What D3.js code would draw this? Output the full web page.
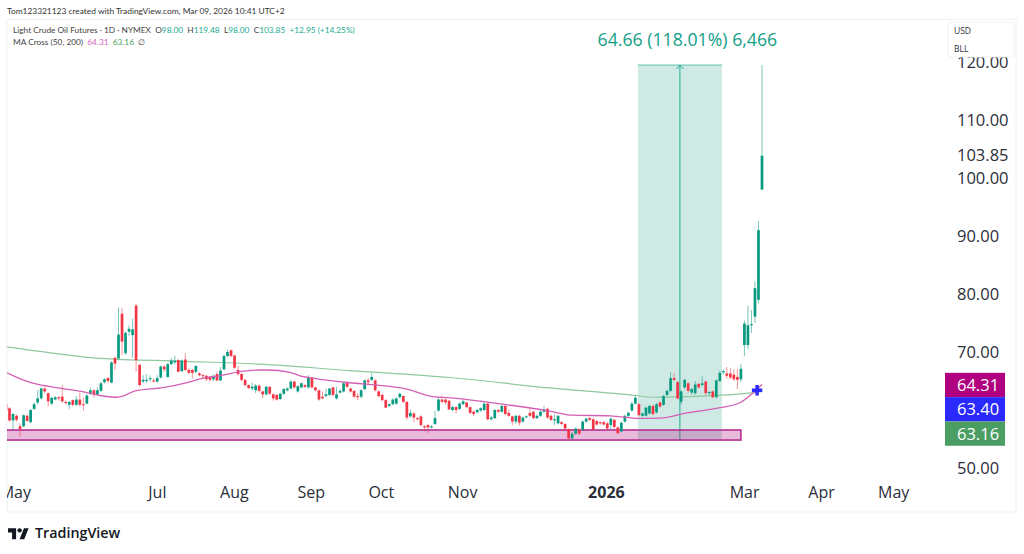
<!DOCTYPE html>
<html><head><meta charset="utf-8">
<script src="https://cdn.jsdelivr.net/npm/d3@7"></script>
<style>html,body{margin:0;padding:0;background:#fff}svg{display:block}text{font-family:"Open Sans",sans-serif}</style>
</head><body><svg id="c" width="1024" height="554"></svg>
<script>
const opens=[61,60.3,58.2,59,57.2,57.2,59,57.9,60.2,61.3,62,63.7,62.9,61.1,61.8,62.2,62.3,61.4,60.9,61.7,60.9,61.8,61,61.1,62.9,63.4,62.7,63.3,64.8,65.5,64.7,69,68.9,76.6,69.8,73.5,72.9,78,67.8,64.9,65,65.3,65.1,64.9,65.6,67.5,65.7,67.9,68.2,68.6,66.7,68.7,66.9,66.9,66.6,66.3,66,65.9,65.7,65.3,66.2,65.1,67,69.3,70.3,69.4,66.9,66.2,65.2,64.3,63.7,63.4,64.2,
63.2,62.7,64,62.7,62.6,61.9,62.8,63.4,63.7,64.9,63.2,63.9,64.3,63.9,65.6,63.9,63.4,62.3,62.4,62.6,63.9,62,63,63.2,64.7,63.7,63.3,62.4,62.3,63.6,65.1,65.2,65.1,63.2,62.6,61.7,60.7,61,61.1,62.2,62.4,61.4,58.9,59.4,58.6,58.9,57.2,57.4,57,57.6,59.9,61.8,61.8,61.6,
60,60.5,60.2,61,61.3,60.5,59.7,59.6,59.9,60,61.1,58.4,58.6,60,59.7,60.7,59.5,58.9,58,59,58,58.8,59.5,59.7,58.6,59,59.7,60.2,59,58.2,57.7,57.9,57.6,56.7,55.1,55.9,56.6,56.6,58,58.6,58.4,58.1,57.9,57.9,57.7,57.4,58.3,57,56.3,58,59,59.9,61.1,61,
59,59,59.4,60.7,59.6,61.3,60.9,62.6,63.3,65.5,64.8,61.4,63.9,64.6,63,62.9,64.5,64.3,64.9,62.9,63.2,62.2,65,66.5,66.3,66.3,66.1,65.7,65.3,71.2,71.2,74.6,76.1,79,98];
const closes=[60,58.2,59.3,58.3,56.7,59.1,58.1,60,61,62,63.7,63.2,61.5,62.1,62.2,62,61.5,61.2,61.4,60.9,61.8,60.9,60.9,62.5,63.4,62.7,63.4,64.6,65.3,65,68.2,68,73,71.8,73.3,74,73.9,68.6,64.3,65.2,65.2,65.5,65,65.5,67.5,67,67.9,68.5,68.5,66.6,68.5,66.9,66.4,66.4,67.6,66,65.9,65.3,65.2,65.9,65.1,66.8,69.3,70,69.3,67.3,66.2,65.2,64.3,63.8,64,64.2,63.3,
62.7,64,62.8,62,61.8,62.8,63.6,63.7,64.9,63.9,64.1,64.6,64,65.7,63.9,63.4,61.8,62,62.7,63.7,62.6,62.7,63.3,64.6,64,63.2,62.3,62.2,63.4,65.1,64.8,65.7,63.4,62.4,61.7,60.4,61,61.8,62,62.8,61.4,58.7,59.5,58.7,58.4,57.4,57,57,57.2,58.6,61.8,61.4,61.3,60.1,
60.5,60,61.1,61.5,60.5,59.5,59.3,60,60.3,61.1,58.4,58.7,60,59.7,60.7,59.3,59,58,59,57.8,58.7,58.9,59,58.6,59,59.7,60.1,58.7,58.3,58.4,59,57.6,56.8,55.1,55.9,56.8,55.9,58,58.5,58.3,56.6,57.5,57.7,57.5,56.8,58.5,57.1,56,57.8,59,59.5,61.1,62.1,59.1,
59.4,60.4,60.7,59.3,61,60.6,62.4,63.3,65.5,65.2,62,63.2,65.2,63.3,63.6,64.4,63.9,64.6,62.9,63.1,62.2,65.1,66.4,66.7,65.9,65.6,65.3,65.2,67.1,74.9,74.6,74.8,81,91,103.85];
const highs=[62,60.5,59.5,59.2,57.7,59.2,59.2,60.2,61.3,63.4,63.9,63.9,63,62.3,62.4,62.4,64.3,61.6,61.5,61.8,62.4,63,62.2,62.7,63.9,63.6,63.9,64.8,65.5,65.7,68.4,69.2,77.7,77.6,73.5,74.6,75.8,78.3,67.9,66,66.2,66,65.5,66,67.7,67.7,68.1,69,69.4,68.8,68.7,69.8,67.2,67.1,67.7,66.5,66.3,66,65.9,66.1,66.6,67.4,69.6,70.4,70.4,69.5,67.6,66.4,65.3,64.4,64.7,64.5,64.4,
63.3,64.2,64.1,62.9,62.7,63,63.8,63.9,65.1,65,64.3,64.8,64.4,66,65.7,64,63.5,63.2,63.7,63.8,64,64,63.6,64.8,64.9,63.9,63.4,62.9,63.6,65.3,65.5,66.4,65.3,63.4,62.8,61.9,61.1,62,62.2,63,62.5,61.5,60.1,59.6,58.8,59.1,57.4,57.6,57.4,59.9,62.3,62.5,62,61.7,
60.7,60.7,61.3,61.7,61.4,60.6,59.9,60.2,60.5,61.3,61.2,59,60.2,60.2,60.9,60.8,60.1,59,59.2,59.2,58.9,59.1,60.2,59.9,59.2,60,60.7,60.4,59.2,59.3,59.2,58.1,57.7,56.8,56.2,57,56.8,58.2,58.7,58.8,58.6,58.3,58,58.1,57.9,58.7,58.5,57.2,58,59.2,59.7,61.4,62.5,61.2,
59.6,60.6,60.9,60.9,61.2,61.5,62.6,63.5,66.5,66.3,65,63.4,65.4,64.8,63.8,65,64.7,65.8,65.1,63.3,63.4,65.3,66.8,67,67.4,67.3,67,67,67.9,75.4,78,77.2,82.2,92.6,119.48];
const lows=[59.5,58,56.6,58,55.4,57,58,57.7,60,61,61.8,62.9,60.6,60.8,61.7,61.6,61.2,61,60.2,60.6,60.7,60.6,59.9,61,62.6,62.2,62.5,63.1,64.6,64.6,64.6,66.9,68.7,69.5,69.5,72.8,69,66.6,64,64.6,64.7,64.9,64.7,64.7,65.4,66.6,65.5,67.7,67.9,66.5,66.6,66.7,66.2,65.4,66.3,65.8,65.3,65,64.9,65,65,65,66.8,69.1,69.1,67.1,65.9,64.9,64,63.6,63.4,62.9,63,
62,62.5,62.6,61.6,61.6,61.7,62.6,63.2,63.6,63.7,63,63.7,63.8,63.7,63.7,63.2,61.6,61.9,62.2,62.4,62.4,61.8,62.8,63,63.8,63,62.1,61.7,62,63.4,64.2,65,63.2,62.2,61.5,60.3,60.5,60.8,60.9,62,61.2,58.3,58.7,57.9,58.2,57.2,56.3,56,56.8,57.4,59.7,61.2,61,60,
59.8,59.4,60,60.8,60.3,59.3,58.9,59.4,59.7,59.8,58.2,58.2,58.4,59.5,59.5,59.1,58.8,57.4,57.6,57.3,57.8,58.6,58.8,58.4,58.4,58.8,59.5,58.5,58.1,57.4,57.5,57.4,56.6,54.9,54.8,55.7,55.7,56.4,57.8,58.1,56.5,57.3,57.5,57.3,56.6,56.6,56.7,55.8,56.1,57.8,58.8,59.7,60.9,59,
58.8,58.9,59.2,59.1,59.4,60.4,60.7,62.4,63.1,65,61.8,60.9,63.6,63,62.7,62.6,63.7,64.1,62.6,62.6,62,62,64.8,66.1,65.4,65.3,65,63.6,64.8,69.3,70.5,73.3,75,78.4,98];
const priceTicks=[50,60,70,80,90,100,103.85,110,120];
const monthLabels=["May","Jul","Aug","Sep","Oct","Nov","2026","Mar","Apr","May"];
const monthBars=[2.5,42.9,64.8,86.7,106.6,129.7,170.6,209.9,231.8,252.3];
const ma200Bars=[0.3,10.2,26.7,50.9,72.2,97.8,126.3,154.7,179.2,184,198.2,207.3,215];
const ma200=[70.9,70.05,68.9,68.4,67.9,66.8,65.6,63.8,62.5,62.2,62.4,62.7,63.16];
const ma50Bars=[0.3,5.4,9.1,16.2,23,26.7,31.6,33.3,36.7,44.6,51.5,56,60.8,67.4,72.2,74.2,80.8,83.6,87.3,97.8,105.5,114,121.4,126.3,142.5,153.9,161.2,171.8,180.3,186,193.7,201.1,208.7,212.4,215];
const ma50=[66.4,65.05,64.4,63.7,63,62.5,62.2,62.4,63.3,63.85,64.7,65.5,65.9,66.7,66.9,66.9,66.5,65.9,65.5,64.7,64.3,63.6,62.3,62.1,60.9,59.9,59.1,59,58.55,58.6,59.5,60.2,61.25,62.9,64.4];
const lastLabels=["64.31","63.40","63.16"];
const legendUnits=["USD","BLL"];

const GREEN="#089981",RED="#f23645",TEAL="#22ab94",MAG="#b0007f",BLUE="#2a2aff",MAG2="#d45fb4",GRN2="#8fc9a0";
const N=opens.length, right=762;
const x=d3.scaleLinear().domain([0,N-1]).range([6,right]);
const y=d3.scaleLinear().domain([50,120]).range([468,62]);
const svg=d3.select("#c");
svg.append("defs").append("clipPath").attr("id","pane").append("rect").attr("x",7).attr("y",20).attr("width",1009).attr("height",492);
svg.append("rect").attr("x",7).attr("y",19.5).attr("width",1009).attr("height",492.5).attr("fill","none").attr("stroke","#eef0f3");
const pane=svg.append("g").attr("clip-path","url(#pane)");

// position tool
const toolBars=[179.7,203.6], entry=54.82, target=119.48;
pane.append("rect").attr("x",x(toolBars[0])).attr("width",x(toolBars[1])-x(toolBars[0]))
 .attr("y",y(target)).attr("height",y(entry)-y(target)).attr("fill","#cfeae4");
pane.append("line").attr("x1",x(toolBars[0])).attr("x2",x(toolBars[1])).attr("y1",y(target)).attr("y2",y(target)).attr("stroke",TEAL).attr("stroke-opacity",.7);
const mid=(x(toolBars[0])+x(toolBars[1]))/2;
pane.append("line").attr("x1",mid).attr("x2",mid).attr("y1",y(target)).attr("y2",y(entry)).attr("stroke",TEAL);
pane.append("path").attr("d",`M${mid-3.5},${y(target)+4}L${mid},${y(target)}L${mid+3.5},${y(target)+4}`).attr("fill","none").attr("stroke",TEAL);

// support zone
const zone=[56.55,54.82], zoneEnd=209;
pane.append("rect").attr("x",x(0)-5).attr("width",x(zoneEnd)-x(0)+5).attr("y",y(zone[0])).attr("height",y(zone[1])-y(zone[0]))
 .attr("fill","rgba(176,0,127,.27)").attr("stroke","#b62f92").attr("stroke-width",1.6);

// MAs
const ln=d3.line().curve(d3.curveMonotoneX);
pane.append("path").attr("d",ln(ma200.map((v,i)=>[x(ma200Bars[i]),y(v)]))).attr("fill","none").attr("stroke",GRN2).attr("stroke-width",1.2);

// candles
const g=pane.append("g");
d3.range(N).forEach(i=>{
 const up=closes[i]>=opens[i], col=up?GREEN:RED, cx=x(i);
 g.append("line").attr("x1",cx).attr("x2",cx).attr("y1",y(highs[i])).attr("y2",y(lows[i])).attr("stroke",col).attr("stroke-opacity",.55).attr("stroke-width",1);
 const t=y(Math.max(opens[i],closes[i])), b=y(Math.min(opens[i],closes[i]));
 g.append("rect").attr("x",cx-1.35).attr("width",2.7).attr("y",t).attr("height",Math.max(b-t,1)).attr("fill",col);
});
pane.append("path").attr("d",ln(ma50Bars.map((v,i)=>[x(v),y(ma50[i])]))).attr("fill","none").attr("stroke",MAG2).attr("stroke-width",1.3);
pane.append("path").attr("d",d3.symbol(d3.symbolCross,60)()).attr("transform",`translate(${x(213.6)},${y(63.4)})`).attr("fill",BLUE);

// tool label
svg.append("text").attr("x",mid+7.5).attr("y",46).attr("text-anchor","middle").attr("fill","#12a088").attr("font-size",17.7).text("64.66 (118.01%) 6,466");

// axes
const yAxis=d3.axisRight(y).tickValues(priceTicks).tickSize(0).tickPadding(0).tickFormat(d3.format(".2f"));
const ya=svg.append("g").attr("transform","translate(957,0)").call(yAxis);
ya.select(".domain").remove();
ya.selectAll("text").attr("font-size",16.5).attr("fill","#2a2e39").style("font-family",'"Open Sans",sans-serif');
const xAxis=d3.axisBottom(x).tickValues(monthBars).tickSize(0).tickPadding(0).tickFormat((d,i)=>monthLabels[i]);
const xa=svg.append("g").attr("transform","translate(0,487)").attr("clip-path","url(#pane2)").call(xAxis);
svg.select("defs").append("clipPath").attr("id","pane2").append("rect").attr("x",7).attr("y",-10).attr("width",1009).attr("height",40);
xa.select(".domain").remove();
xa.selectAll("text").attr("font-size",16).attr("fill","#2a2e39").style("font-family",'"Open Sans",sans-serif').attr("font-weight",(d,i)=>monthLabels[i]==="2026"?700:400);

// last value labels
const labelColors=[MAG,BLUE,"#4b9e63"];
lastLabels.forEach((t,i)=>{
 const cy=y(+lastLabels[0])+i*24.3;
 svg.append("rect").attr("x",945).attr("width",60).attr("y",cy-12.15).attr("height",24.3).attr("fill",labelColors[i]);
 svg.append("text").attr("x",957).attr("y",cy).attr("dy",".36em").attr("fill","#fff").attr("font-size",16.5).text(t);
});

// unit box
svg.append("rect").attr("x",948).attr("y",22).attr("width",66).attr("height",35).attr("rx",3).attr("fill","#fff").attr("stroke","#f0f2f5");
legendUnits.forEach((t,i)=>svg.append("text").attr("x",954).attr("y",34+i*17.5).attr("font-size",8.5).attr("fill","#2a2e39").text(t));

// header
svg.append("text").attr("x",7).attr("y",14).attr("font-size",8.4).attr("fill","#333").style("font-family","Lato").text("Tom123321123 created with TradingView.com, Mar 09, 2026 10:41 UTC+2");
const h=svg.append("text").attr("x",13).attr("y",33).attr("font-size",8.3).attr("fill","#444").style("font-family","Lato").style("white-space","pre");
[["Light Crude Oil Futures · 1D · NYMEX  O","#444"],["98.00",TEAL],["  H","#444"],["119.48",TEAL],["  L","#444"],["98.00",TEAL],["  C","#444"],["103.85",TEAL],["  +12.95 (+14.25%)",TEAL]]
 .forEach(([t,c])=>h.append("tspan").attr("fill",c).style("white-space","pre").text(t));
const m=svg.append("text").attr("x",13).attr("y",45).attr("font-size",8.3).attr("fill","#444").style("font-family","Lato").style("white-space","pre");
[["MA Cross (50, 200)  ","#444"],["64.31",MAG2],["  ","#444"],["63.16","#4b9e63"],["  ∅","#444"]].forEach(([t,c])=>m.append("tspan").attr("fill",c).style("white-space","pre").text(t));

// logo
const logo=svg.append("g").attr("transform","translate(8,526) scale(.58)").attr("fill","#131722");
logo.append("path").attr("d","M14 23H7V11H0V4h14v19zM28 23h-8l7.5-19h8L28 23z");
logo.append("circle").attr("cx",20).attr("cy",7.5).attr("r",3.8);
svg.append("text").attr("x",35).attr("y",538).attr("font-size",14.3).attr("font-weight",600).attr("fill","#131722").text("TradingView");
</script></body></html>
